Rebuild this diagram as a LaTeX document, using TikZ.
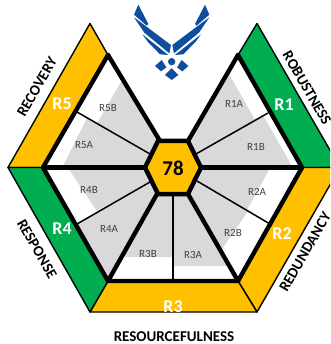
\documentclass[tikz,border=0pt]{standalone}
\usepackage{fontspec}
\setmainfont{Carlito}
\definecolor{amb}{HTML}{FFC000}
\definecolor{grn}{HTML}{00AD50}
\definecolor{gry}{HTML}{D9D9D9}
\definecolor{afb}{HTML}{0F4E9E}
\definecolor{sub}{HTML}{404040}
\tikzset{
  band/.style={draw=black,line width=1.4pt,line join=round},
  gr/.style={fill=gry,draw=none},
  spoke/.style={draw=black,line width=4.4pt,line cap=round},
  thinl/.style={draw=black,line width=1.5pt},
  sublab/.style={font=\fontsize{11}{11}\selectfont,text=sub,inner sep=0pt},
  rlab/.style={font=\fontsize{18}{18}\selectfont\bfseries,text=white,inner sep=0pt},
  dim/.style={font=\fontsize{15}{15}\selectfont\bfseries,text=black,inner sep=0pt},
  wing/.style={fill=afb,draw=none}
}
\begin{document}
\begin{tikzpicture}[x=1pt,y=-1pt]
\useasboundingbox (0,0) rectangle (330,344);
\clip (0,0) rectangle (330,344);
\fill[white] (0,0) rectangle (330,344);
% bands
\filldraw[band,fill=amb] (8,167.5)--(90,23.5)--(108,55)--(43,167.5)--cycle;
\filldraw[band,fill=grn] (257,23.5)--(340,167.5)--(302,167.5)--(238,55)--cycle;
\filldraw[band,fill=amb] (340,167.5)--(257,312)--(238,281)--(302,167.5)--cycle;
\filldraw[band,fill=amb] (257,312)--(90,312)--(108,281)--(238,281)--cycle;
\filldraw[band,fill=grn] (90,312)--(8,167.5)--(43,167.5)--(108,281)--cycle;
% grey sectors
\fill[gr] (122,80)--(97,123.5)--(150,154)--(160,141)--cycle;
\fill[gr] (87,118)--(150,154)--(146,168)--(62,168)--cycle;
\fill[gr] (228,72)--(255,120)--(196,154)--(188,141)--cycle;
\fill[gr] (263,115)--(293,168)--(200,168)--(196,154)--cycle;
\fill[gr] (270,168)--(247,210)--(197,181)--(200,168)--cycle;
\fill[gr] (197,181)--(248,211)--(220,252)--(188,194)--cycle;
\fill[gr] (173,194)--(188,194)--(229,266)--(173,266)--cycle;
\fill[gr] (173,194)--(157,194)--(121.5,257)--(173,257)--cycle;
\fill[gr] (150,182)--(77,224)--(108,281)--(157,194)--cycle;
\fill[gr] (68,168)--(97,211)--(150,182)--(146,168)--cycle;
% thin sector lines
\draw[thinl] (77,112)--(150,154);
\draw[thinl] (268,113)--(196,154);
\draw[thinl] (197,181)--(270,224);
\draw[thinl] (77,224)--(150,182);
\draw[thinl] (173,194)--(173,281);
% spokes
\draw[spoke] (160,141)--(108,55);
\draw[spoke] (188,141)--(238,55);
\draw[spoke] (200,167.5)--(302,167.5);
\draw[spoke] (188,194)--(238,281);
\draw[spoke] (157,194)--(108,281);
\draw[spoke] (146,167.5)--(43,167.5);
% inner hexagon, open at the top
\draw[spoke,line join=round] (238,55)--(302,167.5)--(238,281)--(108,281)--(43,167.5)--(108,55);
% centre
\filldraw[fill=amb,draw=black,line width=4.5pt,line join=miter] (158,141)--(188,141)--(201,167.5)--(188,194)--(158,194)--(145,167.5)--cycle;
\node[font=\fontsize{21}{21}\selectfont\bfseries,text=black,inner sep=0pt] (score) at (173,168) {78};
% band labels
\node[rlab] (r5) at (62,104) {R5};
\node[rlab] (r1) at (284,105) {R1};
\node[rlab] (r2) at (282,234) {R2};
\node[rlab] (r3) at (173,307) {R3};
\node[rlab] (r4) at (62,229) {R4};
% sector labels
\node[sublab] (r5b) at (108,108) {R5B};
\node[sublab] (r5a) at (84,145) {R5A};
\node[sublab] (r1a) at (234,104) {R1A};
\node[sublab] (r1b) at (256,147) {R1B};
\node[sublab] (r2a) at (257,192) {R2A};
\node[sublab] (r2b) at (233,233) {R2B};
\node[sublab] (r3a) at (193,255) {R3A};
\node[sublab] (r3b) at (148,254) {R3B};
\node[sublab] (r4a) at (109,229) {R4A};
\node[sublab] (r4b) at (89,190) {R4B};
% outer labels
\node[dim,rotate=60] (recovery) at (37,87) {RECOVERY};
\node[dim,rotate=-60] (robust) at (307,88) {ROBUSTNESS};
\node[dim,rotate=-60] (response) at (37,249) {RESPONSE};
\node[dim,rotate=60] (redund) at (305,252) {REDUNDANCY};
\node[dim] (resource) at (174,336.5) {RESOURCEFULNESS};
% emblem
\begin{scope}[shift={(125,0)},x=0.3333pt,y=-0.3333pt]
\foreach \s in {1,-1}{
\begin{scope}[shift={(140,0)},xscale=\s]
\fill[wing] (-100,14)--(-70,72)--(-75,77)--(-113,44)--cycle;
\fill[wing] (-113,52)--(-2,135)--(-7,160)--(-82,98)--cycle;
\fill[wing] (-88,103)--(-10,165)--(-35,163)--(-72,125)--cycle;
\fill[wing] (-50,198)--(-30,180)--(-16,202)--(-32,214)--cycle;
\end{scope}}
\fill[wing] (140,205)--(160,225)--(140,240)--(120,225)--cycle;
\fill[wing] (140,185) circle (11);
\end{scope}
\end{tikzpicture}
\end{document}
